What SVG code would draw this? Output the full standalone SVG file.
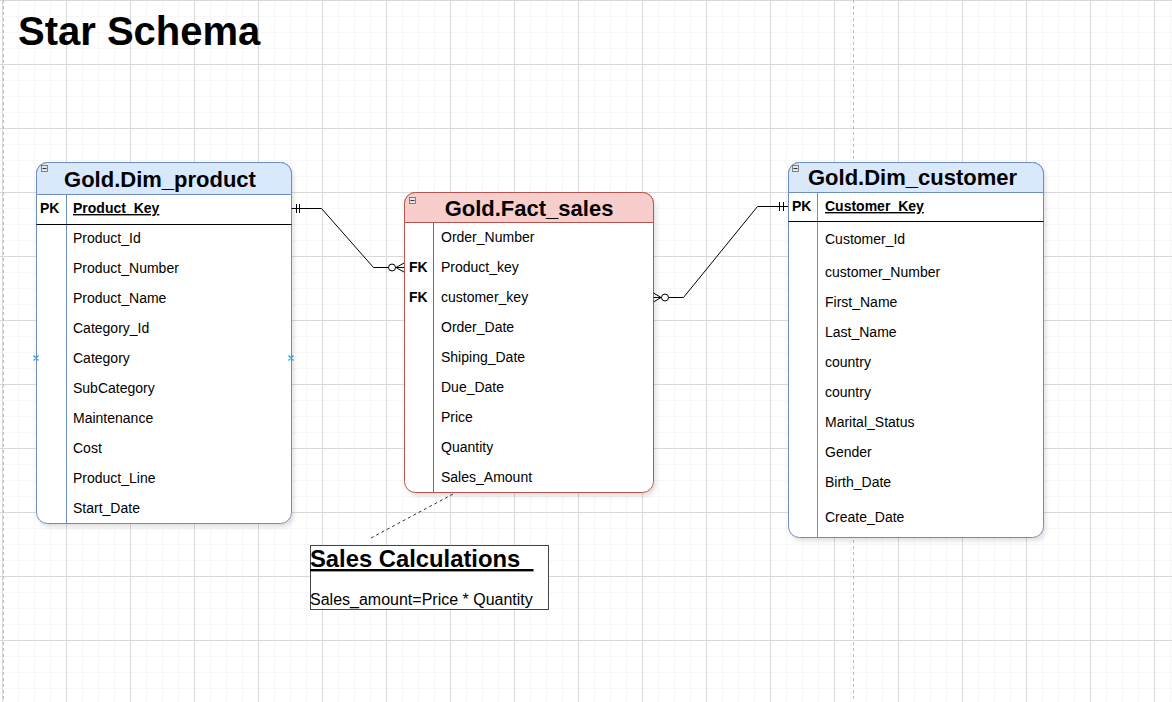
<svg xmlns="http://www.w3.org/2000/svg" width="1172" height="702" viewBox="0 0 1172 702">
<defs>
<pattern id="minor" x="2" y="0" width="16" height="16" patternUnits="userSpaceOnUse">
<path d="M0,0 H16 M0,0 V16" fill="none" stroke="#efefef" stroke-width="1"/>
</pattern>
<pattern id="major" x="2" y="0" width="64" height="64" patternUnits="userSpaceOnUse">
<path d="M0,0.5 H64 M0.5,0 V64" fill="none" stroke="#d9d9d9" stroke-width="1"/>
</pattern>
<filter id="sh" x="-5%" y="-5%" width="115%" height="115%">
<feDropShadow dx="2" dy="3" stdDeviation="2" flood-color="#000" flood-opacity="0.12"/>
</filter>
</defs>
<style>
text{font-family:"Liberation Sans",Arial,sans-serif;fill:#000}
.row{font-size:14px}
.key{font-size:14px;font-weight:bold}
.ttl{font-size:22px;font-weight:bold;text-anchor:middle}
.blue{fill:#ffffff;stroke:#6c8ebf;stroke-width:1}
.blueh{fill:#dae8fc;stroke:#6c8ebf;stroke-width:1}
.red{fill:#ffffff;stroke:#b85450;stroke-width:1}
.redh{fill:#f8cecc;stroke:#b85450;stroke-width:1}
.icon{fill:#e6e6e6;stroke:#666;stroke-width:0.8}
.conn{fill:none;stroke:#000;stroke-width:1}
</style>
<rect width="1172" height="702" fill="#ffffff"/>
<rect width="1172" height="702" fill="url(#minor)"/>
<rect width="1172" height="702" fill="url(#major)"/>
<line x1="3.5" y1="0" x2="3.5" y2="702" stroke="#bdbdbd" stroke-dasharray="3 3"/>
<line x1="853.5" y1="0" x2="853.5" y2="702" stroke="#bdbdbd" stroke-dasharray="3 3"/>

<text x="18" y="45" font-size="40" font-weight="bold">Star Schema</text>

<g id="dim_product">
<rect class="blue" x="36.5" y="162.5" width="255" height="361" rx="11" filter="url(#sh)"/>
<path class="blueh" d="M36.5,194.5 V173.5 a11,11 0 0 1 11,-11 H280.5 a11,11 0 0 1 11,11 V194.5 Z"/>
<rect class="icon" x="41.5" y="165.5" width="6" height="6"/>
<line x1="42.5" y1="168.5" x2="46.5" y2="168.5" stroke="#333" stroke-width="1"/>
<text class="ttl" x="160" y="187">Gold.Dim_product</text>
<line x1="66.5" y1="194.5" x2="66.5" y2="523.5" stroke="#6c8ebf"/>
<line x1="36.5" y1="224.5" x2="291.5" y2="224.5" stroke="#000"/>
<text class="key" x="40" y="213">PK</text>
<text class="key" x="73" y="213" text-decoration="underline">Product_Key</text>
<text class="row" x="73" y="243">Product_Id</text>
<text class="row" x="73" y="273">Product_Number</text>
<text class="row" x="73" y="303">Product_Name</text>
<text class="row" x="73" y="333">Category_Id</text>
<text class="row" x="73" y="363">Category</text>
<text class="row" x="73" y="393">SubCategory</text>
<text class="row" x="73" y="423">Maintenance</text>
<text class="row" x="73" y="453">Cost</text>
<text class="row" x="73" y="483">Product_Line</text>
<text class="row" x="73" y="513">Start_Date</text>
<path d="M33.5,355.5 l5,5 M38.5,355.5 l-5,5 M288.5,355.5 l5,5 M293.5,355.5 l-5,5" stroke="#29a3e6" stroke-width="1.4" fill="none"/>
</g>

<g id="fact_sales">
<rect class="red" x="404.5" y="192.5" width="249" height="300" rx="11" filter="url(#sh)"/>
<path class="redh" d="M404.5,222.5 V203.5 a11,11 0 0 1 11,-11 H642.5 a11,11 0 0 1 11,11 V222.5 Z"/>
<rect class="icon" x="409.5" y="197.5" width="6" height="6"/>
<line x1="410.5" y1="200.5" x2="414.5" y2="200.5" stroke="#333" stroke-width="1"/>
<text class="ttl" x="529" y="216" font-size="22.3">Gold.Fact_sales</text>
<line x1="433.5" y1="222.5" x2="433.5" y2="492.5" stroke="#b85450"/>
<text class="row" x="441" y="242">Order_Number</text>
<text class="key" x="409" y="272">FK</text>
<text class="row" x="441" y="272">Product_key</text>
<text class="key" x="409" y="302">FK</text>
<text class="row" x="441" y="302">customer_key</text>
<text class="row" x="441" y="332">Order_Date</text>
<text class="row" x="441" y="362">Shiping_Date</text>
<text class="row" x="441" y="392">Due_Date</text>
<text class="row" x="441" y="422">Price</text>
<text class="row" x="441" y="452">Quantity</text>
<text class="row" x="441" y="482">Sales_Amount</text>
</g>

<g id="dim_customer">
<rect class="blue" x="788.5" y="162.5" width="255" height="375" rx="11" filter="url(#sh)"/>
<path class="blueh" d="M788.5,192.5 V173.5 a11,11 0 0 1 11,-11 H1032.5 a11,11 0 0 1 11,11 V192.5 Z"/>
<rect class="icon" x="792.5" y="165.5" width="6" height="6"/>
<line x1="793.5" y1="168.5" x2="797.5" y2="168.5" stroke="#333" stroke-width="1"/>
<text class="ttl" x="912.5" y="185">Gold.Dim_customer</text>
<line x1="817.5" y1="192.5" x2="817.5" y2="537.5" stroke="#6c8ebf"/>
<line x1="788.5" y1="221.5" x2="1043.5" y2="221.5" stroke="#000"/>
<text class="key" x="792" y="211">PK</text>
<text class="key" x="825" y="211" text-decoration="underline">Customer_Key</text>
<text class="row" x="825" y="244">Customer_Id</text>
<text class="row" x="825" y="277">customer_Number</text>
<text class="row" x="825" y="307">First_Name</text>
<text class="row" x="825" y="337">Last_Name</text>
<text class="row" x="825" y="367">country</text>
<text class="row" x="825" y="397">country</text>
<text class="row" x="825" y="427">Marital_Status</text>
<text class="row" x="825" y="457">Gender</text>
<text class="row" x="825" y="487">Birth_Date</text>
<text class="row" x="825" y="522">Create_Date</text>
</g>

<g id="connectors">
<path class="conn" d="M291.5,208.5 H321.5 L373.5,267.5 H404"/>
<path class="conn" d="M296.5,204 V213 M299.5,204 V213"/>
<circle cx="392" cy="267.5" r="3.5" fill="#fff" stroke="#000"/>
<path class="conn" d="M396,267.5 L404,263 M396,267.5 L404,272"/>
<path class="conn" d="M653.5,297.5 H683.5 L757.5,206.5 H788"/>
<path class="conn" d="M779.5,202 V211 M783.5,202 V211"/>
<circle cx="665" cy="297.5" r="3.5" fill="#fff" stroke="#000"/>
<path class="conn" d="M661,297.5 L653.5,293 M661,297.5 L653.5,302"/>
<line x1="371" y1="538" x2="455" y2="493" stroke="#333" stroke-width="1" stroke-dasharray="3 3"/>
</g>

<g id="sales_calculations">
<rect x="310.5" y="545.5" width="238" height="64" fill="#fff" stroke="#444" stroke-width="1"/>
<text x="310" y="567" font-size="23.8" font-weight="bold" text-decoration="underline" xml:space="preserve">Sales Calculations  </text>
<text x="310" y="605" font-size="16">Sales_amount=Price * Quantity</text>
</g>
</svg>
